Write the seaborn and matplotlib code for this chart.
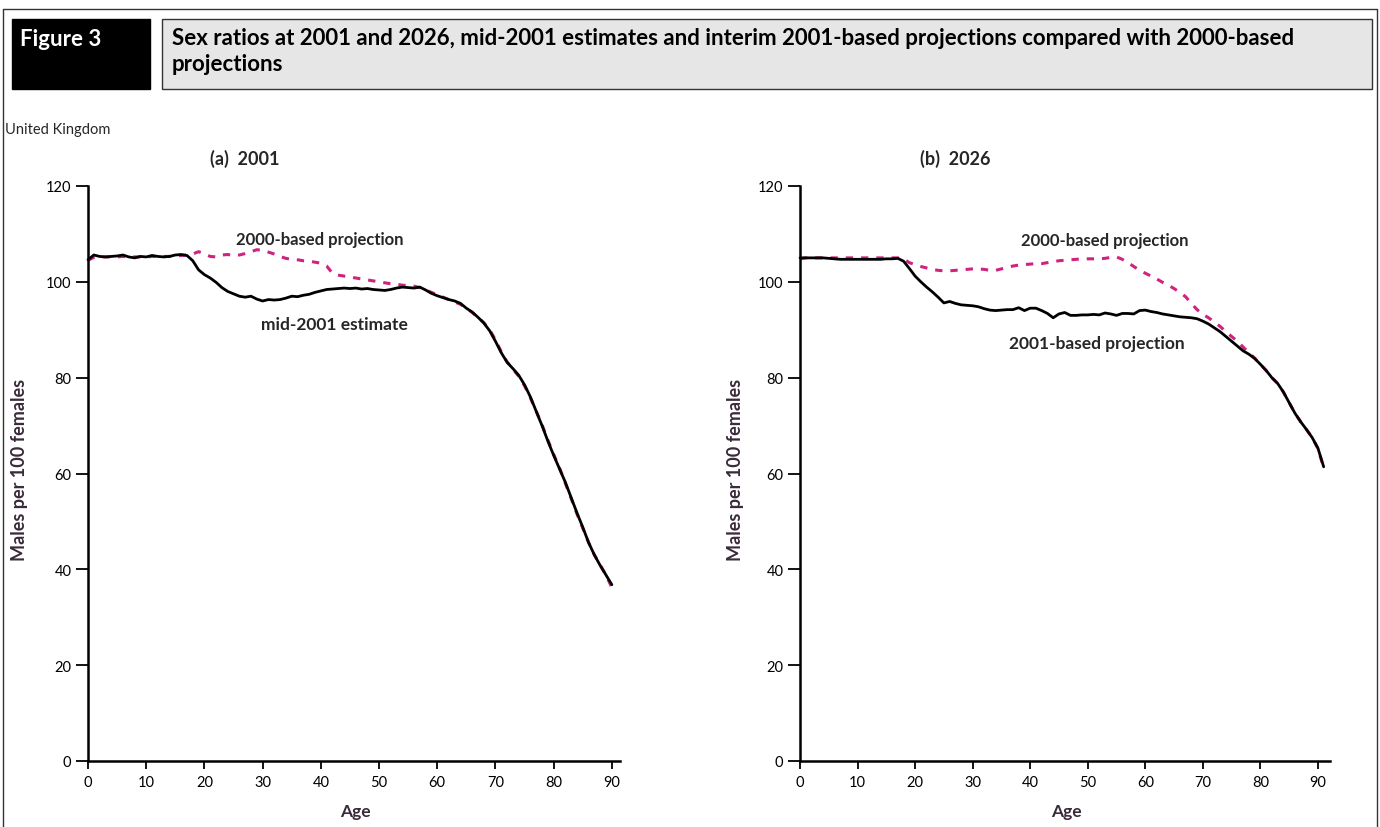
import matplotlib
matplotlib.use("Agg")
import matplotlib.pyplot as plt
from matplotlib.patches import Rectangle
from matplotlib.lines import Line2D
import seaborn as sns

# Ages (single years)
ages_a = list(range(0, 91))
ages_b = list(range(0, 92))

# (a) 2001 - mid-2001 estimate (males per 100 females)
est_2001 = [104.6, 105.6, 105.3, 105.2, 105.3, 105.4, 105.6, 105.2, 105.0, 105.3,
            105.2, 105.5, 105.3, 105.2, 105.3, 105.6, 105.7, 105.5, 104.4, 102.5,
            101.5, 100.8, 99.9, 98.8, 98.0, 97.5, 97.0, 96.8, 97.0, 96.4,
            96.0, 96.3, 96.2, 96.3, 96.6, 97.0, 96.9, 97.2, 97.4, 97.8,
            98.1, 98.4, 98.5, 98.6, 98.7, 98.6, 98.7, 98.5, 98.6, 98.4,
            98.3, 98.2, 98.4, 98.7, 98.9, 98.8, 98.7, 98.9, 98.3, 97.6,
            97.1, 96.7, 96.3, 96.0, 95.5, 94.5, 93.7, 92.6, 91.4, 89.8,
            87.6, 85.2, 83.2, 81.9, 80.5, 78.5, 76.0, 73.0, 70.0, 66.8,
            63.8, 61.0, 58.2, 55.0, 51.8, 48.8, 45.6, 43.0, 40.8, 38.8,
            36.8]

# (a) 2001 - 2000-based projection
proj2000_a = [104.5, 105.1, 105.2, 105.2, 105.2, 105.2, 105.3, 105.2, 105.2, 105.2,
              105.2, 105.3, 105.3, 105.3, 105.3, 105.4, 105.5, 105.6, 105.8, 106.3,
              105.8, 105.3, 105.2, 105.6, 105.7, 105.5, 105.6, 105.9, 106.3, 106.7,
              106.6, 106.2, 105.8, 105.3, 104.9, 104.7, 104.6, 104.4, 104.3, 104.1,
              103.9, 103.3, 101.8, 101.4, 101.2, 101.0, 100.8, 100.6, 100.4, 100.2,
              100.0, 99.8, 99.6, 99.5, 99.3, 99.2, 99.1, 98.8, 98.3, 97.8,
              97.3, 96.8, 96.3, 95.8, 95.3, 94.5, 93.6, 92.6, 91.5, 90.0,
              87.9, 85.4, 83.3, 81.8, 80.3, 78.3, 75.8, 73.0, 70.2, 67.0,
              64.0, 61.2, 58.0, 54.8, 51.6, 48.6, 45.6, 43.0, 40.9, 38.8,
              36.2]

# (b) 2026 - 2001-based projection
proj2001_b = [105.0, 105.0, 105.0, 105.0, 105.0, 104.9, 104.8, 104.7, 104.7, 104.7,
              104.7, 104.7, 104.7, 104.7, 104.7, 104.8, 104.8, 104.9, 104.3, 102.8,
              101.2, 100.0, 98.9, 97.9, 96.8, 95.6, 95.9, 95.5, 95.2, 95.1,
              95.0, 94.8, 94.4, 94.1, 94.0, 94.1, 94.2, 94.2, 94.6, 94.0,
              94.5, 94.5, 94.0, 93.4, 92.5, 93.3, 93.6, 93.0, 93.0, 93.1,
              93.1, 93.2, 93.1, 93.5, 93.3, 93.0, 93.4, 93.4, 93.3, 94.0,
              94.1, 93.8, 93.6, 93.3, 93.1, 92.9, 92.7, 92.6, 92.5, 92.3,
              91.8, 91.2, 90.4, 89.6, 88.6, 87.6, 86.6, 85.6, 84.9, 84.0,
              82.8, 81.5, 80.0, 78.8, 77.0, 74.8, 72.6, 70.8, 69.2, 67.5,
              65.3, 61.4]

# (b) 2026 - 2000-based projection
proj2000_b = [104.8, 105.0, 105.0, 105.0, 105.0, 105.0, 105.0, 105.0, 105.0, 105.0,
              105.0, 105.0, 105.0, 105.0, 105.0, 105.0, 105.0, 105.0, 104.8, 104.0,
              103.6, 103.2, 102.9, 102.6, 102.4, 102.3, 102.3, 102.4, 102.5, 102.6,
              102.7, 102.7, 102.6, 102.4, 102.4, 102.7, 103.0, 103.3, 103.5, 103.6,
              103.7, 103.8, 103.8, 104.0, 104.2, 104.4, 104.5, 104.6, 104.7, 104.8,
              104.8, 104.8, 104.8, 104.9, 105.1, 105.2, 104.7, 104.0, 103.2, 102.4,
              101.8, 101.2, 100.6, 99.9, 99.3, 98.6, 97.8, 96.9, 95.5, 94.2,
              93.2, 92.5, 91.6, 90.7, 89.6, 88.6, 87.6, 86.4, 85.2, 84.1,
              82.8, 81.5, 80.0, 78.8, 77.0, 74.8, 72.6, 70.8, 69.2, 67.5,
              65.2, 61.2]

x_ticks = [0, 10, 20, 30, 40, 50, 60, 70, 80, 90]
y_ticks = [0, 20, 40, 60, 80, 100, 120]

MAGENTA = "#d0237f"
LABEL_COL = "#3a2a3a"

sns.set_theme(style="ticks")
plt.rcParams["font.family"] = ["Lato", "DejaVu Sans"]

W, H = 1380, 828
fig = plt.figure(figsize=(W / 100, H / 100), dpi=100)


def fx(x):
    return x / W


def fy(y):
    return 1 - y / H


# outer frame (top, left, right)
fig.add_artist(Line2D([fx(3), fx(1377)], [fy(10), fy(10)], color="#333333", lw=1.0))
fig.add_artist(Line2D([fx(3), fx(3)], [fy(10), fy(828)], color="#333333", lw=1.0))
fig.add_artist(Line2D([fx(1377), fx(1377)], [fy(10), fy(828)], color="#333333", lw=1.0))

# header boxes
fig.add_artist(Rectangle((fx(12), fy(90)), fx(150) - fx(12), fy(20) - fy(90),
                         facecolor="black", edgecolor="black", lw=1.0))
fig.add_artist(Rectangle((fx(162), fy(90)), fx(1372) - fx(162), fy(20) - fy(90),
                         facecolor="#e6e6e6", edgecolor="#333333", lw=1.0))
fig.text(fx(20), fy(39), "Figure 3", color="white", fontsize=16, weight="bold",
         ha="left", va="center")
fig.text(fx(172), fy(28),
         "Sex ratios at 2001 and 2026, mid-2001 estimates and interim 2001-based projections compared with 2000-based\nprojections",
         color="black", fontsize=16, weight="bold", ha="left", va="top", linespacing=1.3)
fig.text(fx(5), fy(130), "United Kingdom", fontsize=10.5, ha="left", va="center")

panels = [
    dict(left=88, right=620, xmax=91.4, title="(a)  2001", ages=ages_a,
         solid=est_2001, dashed=proj2000_a,
         lab_dash=("2000-based projection", 39.9, 109.0),
         lab_solid=("mid-2001 estimate", 42.4, 91.2),
         ylab_x=20, age_x=355),
    dict(left=800, right=1330, xmax=92.1, title="(b)  2026", ages=ages_b,
         solid=proj2001_b, dashed=proj2000_b,
         lab_dash=("2000-based projection", 53.0, 108.8),
         lab_solid=("2001-based projection", 51.6, 87.3),
         ylab_x=735, age_x=1066),
]

for p in panels:
    ax = fig.add_axes([fx(p["left"]), fy(762), fx(p["right"]) - fx(p["left"]), fy(187) - fy(762)])
    ax.patch.set_alpha(0)
    sns.lineplot(x=p["ages"], y=p["dashed"], ax=ax, color=MAGENTA, linewidth=2.2,
                 linestyle=(0, (2.4, 2.6)), clip_on=False)
    sns.lineplot(x=p["ages"], y=p["solid"], ax=ax, color="black", linewidth=2.0,
                 clip_on=False)
    ax.set_xlim(0, p["xmax"])
    ax.set_ylim(0, 120)
    ax.set_xticks(x_ticks)
    ax.set_yticks(y_ticks)
    ax.set_xlabel("")
    ax.set_ylabel("")
    sns.despine(ax=ax)
    for s in ["left", "bottom"]:
        ax.spines[s].set_linewidth(1.8)
        ax.spines[s].set_color("black")
    ax.tick_params(axis="y", length=9, width=1.3, labelsize=10.5, pad=3, colors="black")
    ax.tick_params(axis="x", length=6, width=1.3, labelsize=10.5, pad=4, colors="black")
    ax.text(26.9, 125.9, p["title"], fontsize=13, weight="bold", ha="center", va="center")
    t, x, y = p["lab_dash"]
    ax.text(x, y, t, fontsize=12, weight="bold", ha="center", va="center")
    t, x, y = p["lab_solid"]
    ax.text(x, y, t, fontsize=12.5, weight="bold", ha="center", va="center")
    fig.text(fx(p["ylab_x"]), fy(470), "Males per 100 females", rotation=90, fontsize=13,
             weight="bold", color=LABEL_COL, ha="center", va="center")
    fig.text(fx(p["age_x"]), fy(812), "Age", fontsize=12.5, weight="bold",
             color=LABEL_COL, ha="center", va="center")

fig.savefig("out.png", dpi=100)
